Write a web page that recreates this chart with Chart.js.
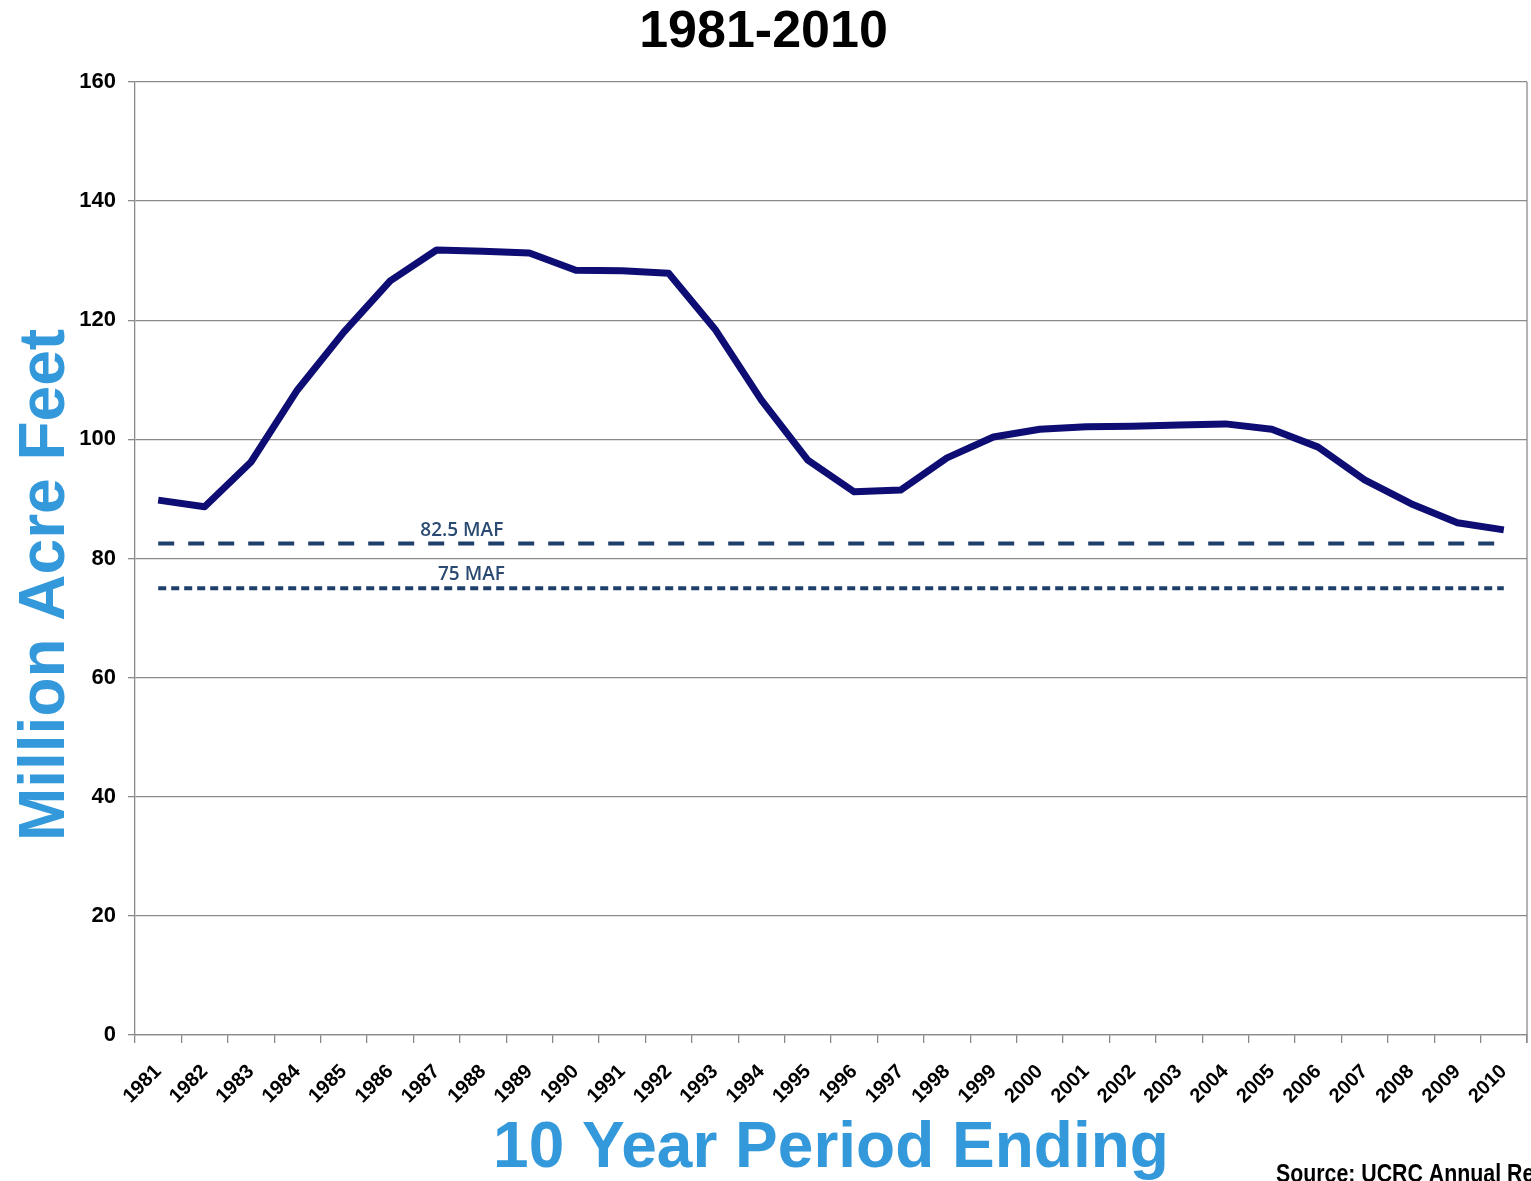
<!DOCTYPE html>
<html>
<head>
<meta charset="utf-8">
<script src="https://cdn.jsdelivr.net/npm/chart.js@4.4.1/dist/chart.umd.min.js"></script>
<style>
    body { margin: 0; background: #fff; }
    #wrap { width: 1531px; height: 1181px; }
</style>
</head>
<body>
<div id="wrap"><canvas id="myChart" width="1531" height="1181"></canvas></div>
<script>
// anos (fim do periodo de 10 anos)
var anos = ['1981', '1982', '1983', '1984', '1985', '1986', '1987', '1988', '1989', '1990',
    '1991', '1992', '1993', '1994', '1995', '1996', '1997', '1998', '1999', '2000',
    '2001', '2002', '2003', '2004', '2005', '2006', '2007', '2008', '2009', '2010'];

// fluxo em milhoes de acre-pes
var fluxo = [89.8, 88.7, 96.2, 108.3, 118.0, 126.6, 131.8, 131.6, 131.3, 128.4,
    128.3, 127.9, 118.5, 106.6, 96.5, 91.2, 91.5, 96.9, 100.4, 101.7,
    102.1, 102.2, 102.4, 102.6, 101.7, 98.7, 93.2, 89.2, 86.0, 84.8];

var limite1 = 82.5;
var limite2 = 75;
var rotulos = ['82.5 MAF', '75 MAF'];
var yTicks = [0, 20, 40, 60, 80, 100, 120, 140, 160];

var fonte = 'Liberation Sans, Arial, sans-serif';

var extras = {
    id: 'extras',
    afterDraw: function (chart) {
        var ctx = chart.ctx;
        var a = chart.chartArea;
        var xs = chart.scales.x;
        var ys = chart.scales.y;
        ctx.save();
        // borda direita
        ctx.strokeStyle = '#8a8a8a';
        ctx.lineWidth = 1.3;
        ctx.beginPath();
        ctx.moveTo(a.right, a.top);
        ctx.lineTo(a.right, a.bottom + 8);
        ctx.stroke();
        // rotulos das linhas de referencia
        ctx.fillStyle = '#2b4a72';
        ctx.font = '600 19px "Open Sans", sans-serif';
        ctx.textAlign = 'center';
        ctx.textBaseline = 'bottom';
        ctx.fillText(rotulos[0], xs.getPixelForValue(6.5) + 2, ys.getPixelForValue(limite1) - 4);
        ctx.fillText(rotulos[1], xs.getPixelForValue(6.75), ys.getPixelForValue(limite2) - 4);
        // titulo do eixo y
        ctx.save();
        ctx.translate(64, 585);
        ctx.rotate(-Math.PI / 2);
        ctx.fillStyle = '#3399db';
        ctx.font = 'bold 64px ' + fonte;
        ctx.textAlign = 'center';
        ctx.textBaseline = 'alphabetic';
        ctx.fillText('Million Acre Feet', 0, 0);
        ctx.restore();
        // fonte
        ctx.save();
        ctx.translate(1276, 1182);
        ctx.scale(0.82, 1);
        ctx.fillStyle = '#000';
        ctx.font = 'bold 26px ' + fonte;
        ctx.textAlign = 'left';
        ctx.textBaseline = 'alphabetic';
        ctx.fillText('Source: UCRC Annual Report', 0, 0);
        ctx.restore();
        ctx.restore();
    }
};

var ctx = document.getElementById('myChart').getContext('2d');
var chart = new Chart(ctx, {
    type: 'line',
    data: {
        labels: anos,
        datasets: [
            {
                label: 'Fluxo',
                data: fluxo,
                borderColor: '#0d0d73',
                borderWidth: 7,
                pointRadius: 0,
                tension: 0,
                fill: false,
                borderJoinStyle: 'round',
                order: 0
            },
            {
                label: '82.5 MAF',
                data: anos.map(function () { return limite1; }),
                borderColor: '#1f3f6b',
                borderWidth: 4,
                borderDash: [16, 14],
                pointRadius: 0,
                fill: false,
                order: 1
            },
            {
                label: '75 MAF',
                data: anos.map(function () { return limite2; }),
                borderColor: '#1f3f6b',
                borderWidth: 4,
                borderDash: [8, 5],
                pointRadius: 0,
                fill: false,
                order: 2
            }
        ]
    },
    options: {
        responsive: false,
        animation: false,
        layout: { padding: { left: 0, right: 4, top: 0, bottom: 0 } },
        plugins: {
            legend: { display: false },
            tooltip: { enabled: false },
            title: {
                display: true,
                text: '1981-2010',
                color: '#000',
                font: { family: fonte, size: 52, weight: 'bold', lineHeight: 1.2 },
                padding: { top: 1, bottom: 18.6 }
            }
        },
        scales: {
            x: {
                offset: true,
                grid: {
                    display: true,
                    offset: true,
                    drawOnChartArea: false,
                    drawTicks: true,
                    tickLength: 8,
                    color: '#8a8a8a',
                    lineWidth: 1.3
                },
                border: { display: true, color: '#8a8a8a', width: 1.3 },
                ticks: {
                    autoSkip: false,
                    minRotation: 45,
                    maxRotation: 45,
                    padding: 17,
                    color: '#000',
                    font: { family: fonte, size: 20, weight: 'bold' }
                },
                title: {
                    display: true,
                    text: '10 Year Period Ending',
                    color: '#3399db',
                    font: { family: fonte, size: 64, weight: 'bold', lineHeight: 1 },
                    padding: { top: 0, bottom: 0 }
                },
                afterFit: function (scale) {
                    scale.height = 146;
                    scale.paddingLeft = 0;
                    scale.paddingRight = 0;
                }
            },
            y: {
                min: 0,
                max: 160,
                afterBuildTicks: function (scale) {
                    scale.ticks = yTicks.map(function (v) { return { value: v }; });
                },
                grid: {
                    color: '#8a8a8a',
                    lineWidth: 1.3,
                    tickLength: 7
                },
                border: { display: true, color: '#8a8a8a', width: 1.3 },
                ticks: {
                    padding: 12,
                    color: '#000',
                    font: { family: fonte, size: 22, weight: 'bold' }
                },
                title: { display: false },
                afterFit: function (scale) { scale.width = 135; }
            }
        }
    },
    plugins: [extras]
});
</script>
</body>
</html>
